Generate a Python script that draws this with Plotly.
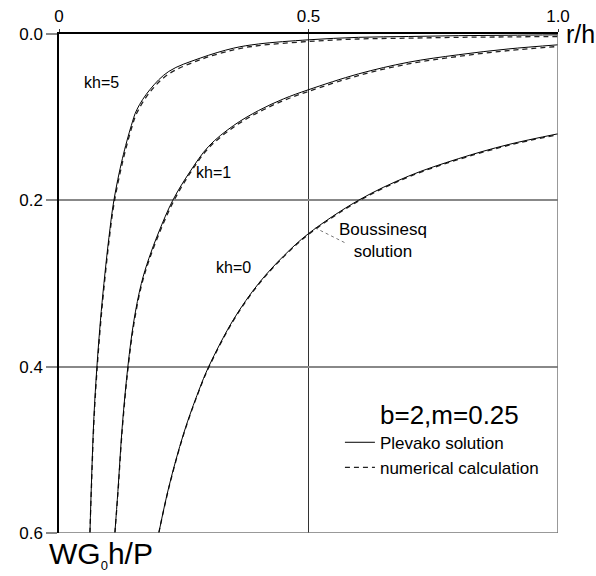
import plotly.graph_objects as go

# Surface settlement W*G0*h/P versus r/h for b=2, m=0.25
r_kh0 = [0.2, 0.22, 0.25, 0.28, 0.3, 0.35, 0.4, 0.45, 0.5, 0.6, 0.7, 0.8, 0.9, 1.0]
w_kh0 = [0.6, 0.545, 0.48, 0.429, 0.4, 0.343, 0.3, 0.267, 0.24, 0.2, 0.171, 0.15, 0.133, 0.12]
w_kh0_num = [0.6, 0.546, 0.481, 0.43, 0.401, 0.344, 0.301, 0.268, 0.241, 0.201, 0.172, 0.151, 0.134, 0.121]

r_kh1 = [0.112, 0.118, 0.127, 0.138, 0.15, 0.165, 0.18, 0.2, 0.228, 0.262, 0.3, 0.35, 0.4, 0.45, 0.5, 0.6, 0.7, 0.8, 0.9, 1.0]
w_kh1 = [0.6, 0.55, 0.47, 0.4, 0.345, 0.3, 0.27, 0.238, 0.2, 0.166, 0.135, 0.11, 0.092, 0.078, 0.067, 0.048, 0.034, 0.025, 0.018, 0.013]
w_kh1_num = [0.6, 0.553, 0.474, 0.404, 0.349, 0.303, 0.273, 0.241, 0.203, 0.168, 0.137, 0.112, 0.094, 0.08, 0.069, 0.05, 0.036, 0.027, 0.02, 0.015]

r_kh5 = [0.062, 0.065, 0.07, 0.076, 0.083, 0.09, 0.1, 0.11, 0.127, 0.145, 0.156, 0.182, 0.22, 0.283, 0.35, 0.4, 0.5, 0.6, 0.7, 0.8, 0.9, 1.0]
w_kh5 = [0.6, 0.54, 0.46, 0.4, 0.345, 0.3, 0.245, 0.2, 0.15, 0.11, 0.091, 0.067, 0.045, 0.029, 0.017, 0.012, 0.007, 0.004, 0.003, 0.002, 0.0015, 0.001]
w_kh5_num = [0.6, 0.545, 0.466, 0.406, 0.351, 0.306, 0.25, 0.205, 0.155, 0.114, 0.095, 0.07, 0.048, 0.031, 0.019, 0.014, 0.009, 0.006, 0.005, 0.004, 0.0035, 0.003]

x_ticks = [0, 0.5, 1.0]
x_tick_text = ["0", "0.5", "1.0"]
y_ticks = [0.0, 0.2, 0.4, 0.6]
y_tick_text = ["0.0", "0.2", "0.4", "0.6"]

FONT = "Arial, Liberation Sans, sans-serif"

fig = go.Figure()

curves = [(r_kh0, w_kh0, w_kh0_num), (r_kh1, w_kh1, w_kh1_num), (r_kh5, w_kh5, w_kh5_num)]
for i, (r, w, wn) in enumerate(curves):
    fig.add_trace(go.Scatter(
        x=r, y=wn, mode="lines", line=dict(color="#222", width=1.3, dash="5px,4px", shape="spline"),
        name="numerical calculation", showlegend=(i == 0), legendrank=2,
    ))
    fig.add_trace(go.Scatter(
        x=r, y=w, mode="lines", line=dict(color="black", width=1, shape="spline"),
        name="Plevako solution", showlegend=(i == 0), legendrank=1,
    ))

# vertical lines continue a little above the top axis
fig.add_shape(type="line", xref="x", yref="y", x0=0, x1=0, y0=-0.0144, y1=0,
              line=dict(color="black", width=1.5))
fig.add_shape(type="line", xref="x", yref="y", x0=0.5, x1=0.5, y0=-0.0144, y1=0,
              line=dict(color="#333", width=1))
# frame lines on the right and bottom
fig.add_shape(type="line", xref="x", yref="y", x0=1.0, x1=1.0, y0=-0.017, y1=0.6,
              line=dict(color="#777", width=1.5))
fig.add_shape(type="line", xref="x", yref="y", x0=0, x1=1.0, y0=0.6, y1=0.6,
              line=dict(color="#777", width=1.5))
# leader for the Boussinesq label
fig.add_shape(type="line", xref="x", yref="y", x0=0.513, x1=0.573, y0=0.233, y1=0.251,
              line=dict(color="#555", width=0.8, dash="dot"))

annotations = [
    dict(x=0.086, y=0.058, text="kh=5", size=16),
    dict(x=0.309, y=0.166, text="kh=1", size=16),
    dict(x=0.349, y=0.281, text="kh=0", size=16),
    dict(x=0.649, y=0.248, text="Boussinesq<br>solution", size=17),
    dict(x=0.783, y=0.458, text="b=2,m=0.25", size=26),
]
for a in annotations:
    fig.add_annotation(x=a["x"], y=a["y"], xref="x", yref="y", text=a["text"], showarrow=False,
                       font=dict(family=FONT, size=a["size"], color="black"))

# axis titles
fig.add_annotation(x=1.012, y=1.0, xref="paper", yref="paper", xanchor="left", yanchor="middle",
                   text="r/h", showarrow=False, font=dict(family=FONT, size=25, color="black"))
fig.add_annotation(x=-0.024, y=-0.044, xref="paper", yref="paper", xanchor="left", yanchor="middle",
                   text="WG<sub><span style='font-size:13px'>0</span></sub>h/P", showarrow=False,
                   font=dict(family=FONT, size=30, color="black"))

fig.update_layout(
    width=596, height=576,
    margin=dict(l=59, r=38, t=34, b=43, pad=0),
    paper_bgcolor="white", plot_bgcolor="white",
    font=dict(family=FONT, color="black"),
    legend=dict(x=0.563, y=0.217, xref="paper", yref="paper", xanchor="left", yanchor="top",
                bgcolor="rgba(0,0,0,0)", font=dict(family=FONT, size=17), itemwidth=30,
                tracegroupgap=0),
    xaxis=dict(range=[0, 1.0], side="top", tickvals=x_ticks, ticktext=x_tick_text,
               showgrid=True, gridcolor="#333", gridwidth=1,
               ticks="outside", ticklen=3, tickcolor="#333", tickwidth=1,
               showline=True, linecolor="black", linewidth=1.5, automargin=False,
               tickfont=dict(family=FONT, size=17), zeroline=False),
    yaxis=dict(range=[0.6, 0], tickvals=y_ticks, ticktext=y_tick_text,
               showgrid=True, gridcolor="#888", gridwidth=1.5,
               ticks="outside", ticklen=11, tickcolor="#888", tickwidth=1.5,
               showline=True, linecolor="black", linewidth=1.5, automargin=False,
               tickfont=dict(family=FONT, size=17), zeroline=False),
)

fig.write_html("out.html")
